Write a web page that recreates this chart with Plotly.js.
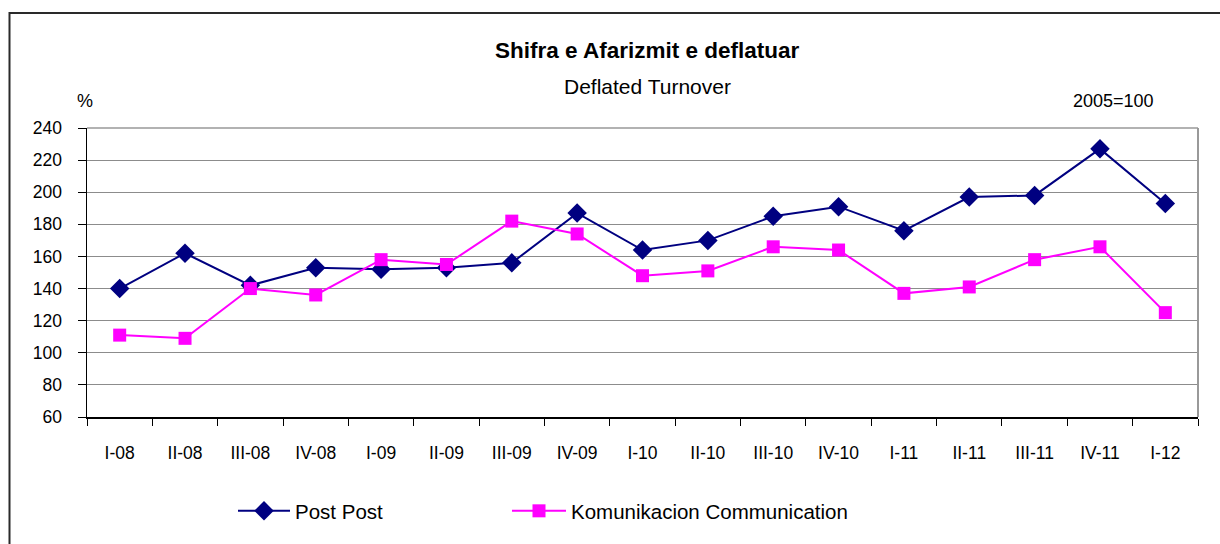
<!DOCTYPE html>
<html>
<head>
<meta charset="utf-8">
<script src="https://cdn.plot.ly/plotly-3.0.1.min.js"></script>
<style>
html,body{margin:0;padding:0;background:#fff;}
#chart{width:1220px;height:544px;}
</style>
</head>
<body>
<div id="chart"></div>
<script>
const categories = ["I-08","II-08","III-08","IV-08","I-09","II-09","III-09","IV-09","I-10","II-10","III-10","IV-10","I-11","II-11","III-11","IV-11","I-12"];
const postValues = [140,162,142,153,152,153,156,187,164,170,185,191,176,197,198,227,193];
const commValues = [111,109,140,136,158,155,182,174,148,151,166,164,137,141,158,166,125];
const yTicks = [60,80,100,120,140,160,180,200,220,240];

const FONT = "'Liberation Sans', Arial, sans-serif";

const traces = [
  {
    x: categories, y: postValues, name: "Post Post", type: "scatter", mode: "lines+markers",
    line: {color: "#000080", width: 2},
    marker: {symbol: "diamond", size: 15, color: "#000080"},
    legend: "legend"
  },
  {
    x: categories, y: commValues, name: "Komunikacion Communication", type: "scatter", mode: "lines+markers",
    line: {color: "#FF00FF", width: 2},
    marker: {symbol: "square", size: 13, color: "#FF00FF"},
    legend: "legend2"
  }
];

const L = 87, R = 22, T = 128, B = 127, W = 1220, H = 544;
const pw = W - L - R, ph = H - T - B;
const px = v => (v - L) / pw;
const py = v => (H - B - v) / ph;

const legendBase = {
  orientation: "h", yanchor: "middle", xanchor: "left",
  font: {family: FONT, size: 20.5, color: "#000"},
  itemwidth: 52, bgcolor: "rgba(0,0,0,0)", borderwidth: 0
};

const layout = {
  width: W, height: H,
  margin: {l: L, r: R, t: T, b: B, pad: 0},
  paper_bgcolor: "#fff", plot_bgcolor: "#fff",
  font: {family: FONT, size: 17, color: "#000"},
  showlegend: true,
  legend: Object.assign({}, legendBase, {x: px(233), y: py(511)}),
  legend2: Object.assign({}, legendBase, {x: px(507), y: py(511), itemwidth: 54}),
  xaxis: {
    type: "category", tickvals: categories, ticktext: categories,
    range: [-0.5, categories.length - 0.5],
    tickson: "boundaries", ticks: "outside", ticklen: 7, tickcolor: "#000", tickwidth: 1,
    showline: true, linecolor: "#000", linewidth: 1.5,
    showgrid: false, zeroline: false,
    tickfont: {family: FONT, size: 17.5, color: "#000"},
    ticklabelstandoff: 19, fixedrange: true
  },
  yaxis: {
    range: [60, 240], tickvals: yTicks, ticktext: yTicks.map(String),
    ticks: "outside", ticklen: 8, tickcolor: "#000", tickwidth: 1,
    showline: true, linecolor: "#000", linewidth: 1.5,
    showgrid: true, gridcolor: "#8c8c8c", gridwidth: 1, zeroline: false,
    tickfont: {family: FONT, size: 17.5, color: "#000"},
    ticklabelstandoff: 12, fixedrange: true
  },
  shapes: [
    {type: "line", xref: "paper", yref: "paper", x0: 1, x1: 1, y0: 0, y1: 1, line: {color: "#999", width: 2}},
    {type: "line", xref: "paper", yref: "paper", x0: 0, x1: 1, y0: 1, y1: 1, line: {color: "#999", width: 1.5}},
    {type: "rect", xref: "paper", yref: "paper", x0: px(9.5), x1: px(1224), y0: py(13), y1: py(550), line: {color: "#2a2a2a", width: 2}, layer: "below"}
  ],
  annotations: [
    {xref: "paper", yref: "paper", x: px(647), y: py(51), text: "<b>Shifra e Afarizmit e deflatuar</b>", showarrow: false, font: {family: FONT, size: 22.5, color: "#000"}, xanchor: "center", yanchor: "middle"},
    {xref: "paper", yref: "paper", x: px(647), y: py(86), text: "Deflated Turnover", showarrow: false, font: {family: FONT, size: 21, color: "#000"}, xanchor: "center", yanchor: "middle"},
    {xref: "paper", yref: "paper", x: px(85), y: py(101), text: "%", showarrow: false, font: {family: FONT, size: 18, color: "#000"}, xanchor: "center", yanchor: "middle"},
    {xref: "paper", yref: "paper", x: px(1113), y: py(101), text: "2005=100", showarrow: false, font: {family: FONT, size: 18, color: "#000"}, xanchor: "center", yanchor: "middle"}
  ]
};

Plotly.newPlot("chart", traces, layout, {displayModeBar: false, staticPlot: true});
</script>
</body>
</html>
